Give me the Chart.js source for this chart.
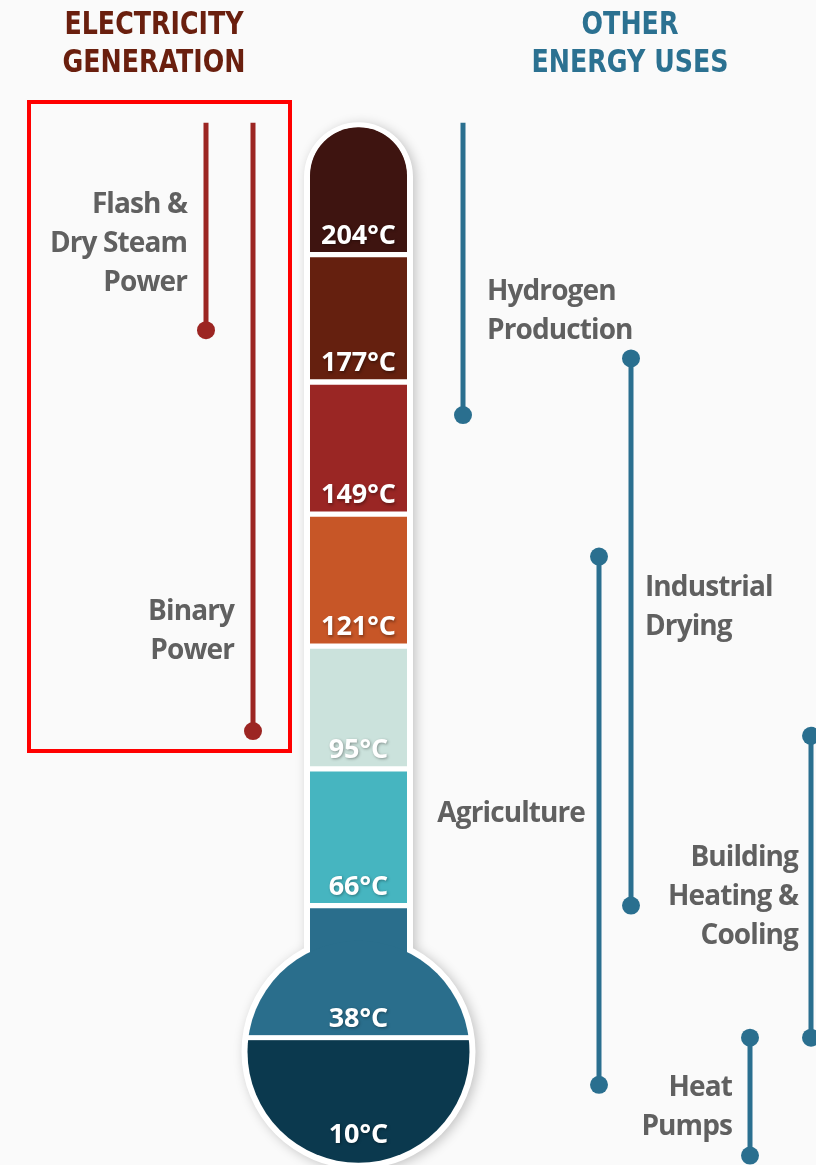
<!DOCTYPE html>
<html>
<head>
<meta charset="utf-8">
<script src="https://cdn.jsdelivr.net/npm/chart.js@4.4.1/dist/chart.umd.min.js"></script>
<style>
html,body{margin:0;padding:0;background:#fafafa;}
#wrap{position:relative;width:816px;height:1165px;overflow:hidden;background:#fafafa;}
#chart{position:absolute;left:0;top:0;}
.head{position:absolute;width:300px;text-align:center;font-family:"DejaVu Sans Condensed","Liberation Sans Narrow",sans-serif;font-weight:700;font-size:32px;line-height:38px;transform:scaleX(0.88);transform-origin:50% 0;}
.lbl{position:absolute;font-family:"Open Sans",sans-serif;font-weight:700;font-size:28px;line-height:39px;color:#606060;letter-spacing:-0.9px;white-space:nowrap;}
#box{position:absolute;left:27px;top:100px;width:265px;height:653px;border:4px solid #ff0000;box-sizing:border-box;}
</style>
</head>
<body>
<div id="wrap">
  <canvas id="chart" width="816" height="1165"></canvas>
  <div class="head" style="left:4px;top:4px;color:#6a1f0e;">ELECTRICITY<br>GENERATION</div>
  <div class="head" style="left:480px;top:4px;color:#2b7191;">OTHER<br>ENERGY USES</div>
  <div id="box"></div>
</div>
<script>
// ---------- DATA ----------
const bandLowC    = [204, 177, 149, 121, 95, 66, 38, 10];          // lower edge of each thermometer band (°C)
const bandLabels  = ['204°C', '177°C', '149°C', '121°C', '95°C', '66°C', '38°C', '10°C'];
const tubeTopC    = 231;                                            // top of the thermometer
const openTopC    = 232;                                            // ranges running off the top

const elecUses    = [['Flash &', 'Dry Steam', 'Power'], ['Binary', 'Power']];
const elecMinC    = [188, 103];
const elecMaxC    = [232, 232];

const otherUses   = [['Hydrogen', 'Production'], ['Industrial', 'Drying'], ['Agriculture'], ['Building', 'Heating &', 'Cooling'], ['Heat', 'Pumps']];
const otherMinC   = [170, 66, 28, 38, 13];
const otherMaxC   = [232, 182, 140, 102, 38];

// ---------- LAYOUT / STYLE ----------
const bandColors = ['#3e1410', '#65200f', '#9a2624', '#c75627', '#cbe2dc', '#46b5c0', '#2a6e8c', '#0b394e'];
const RED = '#9c2522', BLUE = '#2a6f8f';
const L = {
  thermoX: 358.5, tubeW: 97, bulbCenterC: 35, bulbR: 111,
  elecX: [206, 253], otherX: [463, 631, 599, 811, 750],
  elecLbl: [{right: 187, base: 213}, {right: 234, base: 620}],
  otherLbl: [{left: 487, base: 300}, {left: 645, base: 596}, {right: 585, base: 822}, {right: 798, base: 866}, {right: 732, base: 1096}]
};
const nBands = bandLowC.length;

// ---------- labels (HTML text) ----------
const wrap = document.getElementById('wrap');
function addLabel(lines, pos) {
  const d = document.createElement('div');
  d.className = 'lbl';
  d.innerHTML = lines.join('<br>');
  d.style.top = (pos.base - 30.4) + 'px';
  if (pos.right !== undefined) { d.style.right = (816 - pos.right) + 'px'; d.style.textAlign = 'right'; }
  else { d.style.left = pos.left + 'px'; d.style.textAlign = 'left'; }
  wrap.appendChild(d);
}
elecUses.forEach((l, i) => addLabel(l, L.elecLbl[i]));
otherUses.forEach((l, i) => addLabel(l, L.otherLbl[i]));

// ---------- datasets ----------
const bandData = bandLowC.map((lo, i) => ({x: L.thermoX, y: [lo, i === 0 ? tubeTopC : bandLowC[i - 1]]}));

function rangeDataset(x, lo, hi, color) {
  return {
    type: 'line',
    data: [{x: x, y: hi}, {x: x, y: lo}],
    borderColor: color, borderWidth: 5, borderCapStyle: 'butt',
    pointRadius: [hi >= openTopC ? 0 : 9, 9], pointHoverRadius: [hi >= openTopC ? 0 : 9, 9],
    pointBackgroundColor: color, pointBorderWidth: 0,
    tension: 0, clip: false, order: 0
  };
}
const rangeSets = [];
elecMinC.forEach((lo, i) => rangeSets.push(rangeDataset(L.elecX[i], lo, elecMaxC[i], RED)));
otherMinC.forEach((lo, i) => rangeSets.push(rangeDataset(L.otherX[i], lo, otherMaxC[i], BLUE)));

// ---------- plugin: thermometer outline, bulb, band labels ----------
const thermoPlugin = {
  id: 'thermo',
  beforeDatasetsDraw(chart) {
    const ctx = chart.ctx, xs = chart.scales.x, ys = chart.scales.y;
    const cx = xs.getPixelForValue(L.thermoX);
    const top = ys.getPixelForValue(tubeTopC) - 5;
    const cy = ys.getPixelForValue(L.bulbCenterC);
    const hw = L.tubeW / 2 + 6;
    ctx.save();
    ctx.beginPath();
    ctx.roundRect(cx - hw, top, hw * 2, cy - top, [hw, hw, 0, 0]);
    ctx.moveTo(cx + L.bulbR + 6, cy);
    ctx.arc(cx, cy, L.bulbR + 6, 0, Math.PI * 2);
    ctx.shadowColor = 'rgba(0,0,0,0.22)';
    ctx.shadowBlur = 12; ctx.shadowOffsetX = 3; ctx.shadowOffsetY = 2;
    ctx.fillStyle = '#ffffff';
    ctx.fill('nonzero');
    ctx.restore();
  },
  afterDatasetDraw(chart, args) {
    if (args.index !== 0) return;
    const ctx = chart.ctx, xs = chart.scales.x, ys = chart.scales.y;
    const cx = xs.getPixelForValue(L.thermoX);
    const cy = ys.getPixelForValue(L.bulbCenterC);
    const n = nBands;
    const divY = ys.getPixelForValue(bandLowC[n - 2]);
    // bulb: upper half continues the 38°C band, lower half is the 10°C band
    ctx.save();
    ctx.beginPath(); ctx.rect(0, 0, chart.width, divY); ctx.clip();
    ctx.beginPath(); ctx.arc(cx, cy, L.bulbR, 0, Math.PI * 2);
    ctx.fillStyle = bandColors[n - 2]; ctx.fill();
    ctx.restore();
    ctx.save();
    ctx.beginPath(); ctx.rect(0, divY, chart.width, chart.height); ctx.clip();
    ctx.beginPath(); ctx.arc(cx, cy, L.bulbR, 0, Math.PI * 2);
    ctx.fillStyle = bandColors[n - 1]; ctx.fill();
    ctx.restore();
    ctx.save();
    ctx.fillStyle = '#ffffff';
    ctx.fillRect(cx - L.bulbR - 2, divY - 2.5, (L.bulbR + 2) * 2, 5);
    ctx.restore();
    // band labels
    ctx.save();
    ctx.font = '700 27px "Open Sans", sans-serif';
    ctx.fillStyle = '#ffffff';
    ctx.textAlign = 'center';
    ctx.textBaseline = 'alphabetic';
    ctx.shadowColor = 'rgba(0,0,0,0.35)';
    ctx.shadowBlur = 3; ctx.shadowOffsetX = 1; ctx.shadowOffsetY = 1.5;
    bandLowC.forEach((t, i) => {
      let base = ys.getPixelForValue(t) - 11;
      if (i === n - 1) base = cy + L.bulbR - 20;
      ctx.fillText(bandLabels[i], cx, base);
    });
    ctx.restore();
  }
};

new Chart(document.getElementById('chart'), {
  type: 'bar',
  data: {
    datasets: [{
      type: 'bar',
      data: bandData,
      backgroundColor: c => c.dataIndex === nBands - 1 ? 'rgba(0,0,0,0)' : bandColors[c.dataIndex],
      borderColor: c => c.dataIndex === nBands - 1 ? 'rgba(0,0,0,0)' : '#ffffff',
      borderSkipped: false,
      borderWidth: c => ({top: c.dataIndex === 0 ? 0 : 3, bottom: 3, left: 0, right: 0}),
      borderRadius: c => c.dataIndex === 0 ? {topLeft: 48, topRight: 48, bottomLeft: 0, bottomRight: 0} : 0,
      barThickness: L.tubeW,
      order: 1
    }].concat(rangeSets)
  },
  options: {
    responsive: false,
    animation: false,
    devicePixelRatio: 1,
    events: [],
    layout: {padding: 0, autoPadding: false},
    plugins: {legend: {display: false}, tooltip: {enabled: false}, title: {display: false}},
    scales: {
      x: {type: 'linear', min: 0, max: 816, offset: false, display: false},
      y: {type: 'linear', min: 11, max: 258, offset: false, display: false}
    }
  },
  plugins: [thermoPlugin]
});
</script>
</body>
</html>
